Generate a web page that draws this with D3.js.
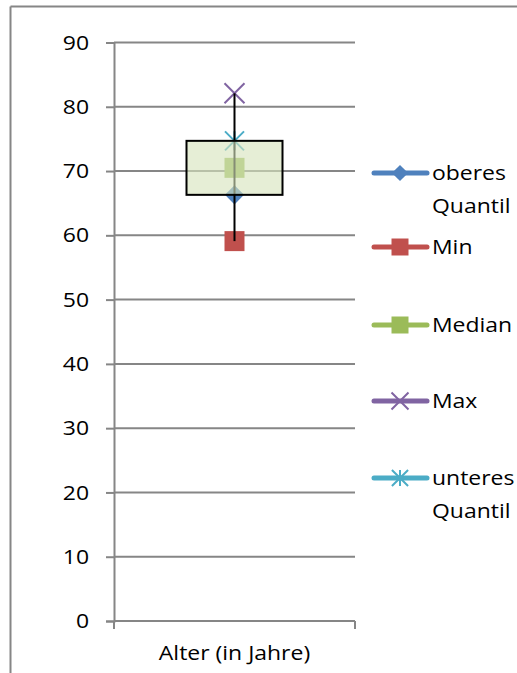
<!DOCTYPE html>
<html>
<head>
<meta charset="utf-8">
<script src="https://cdn.jsdelivr.net/npm/d3@7"></script>
<style>
  html, body { margin: 0; padding: 0; background: #fff; }
  svg { display: block; }
  text { font-family: "Open Sans", Lato, sans-serif; fill: #000; }
</style>
</head>
<body>
<svg id="chart" width="517" height="673"></svg>
<script>
// Age distribution (box plot built from five line series)
const categories = ["Alter (in Jahre)"];
const seriesNames = ["oberes Quantil", "Min", "Median", "Max", "unteres Quantil"];
const seriesValues = [66.3, 59.1, 70.5, 82.1, 74.7];
const seriesColors = ["#4F81BD", "#C0504D", "#9BBB59", "#8064A2", "#4BACC6"];
const yTicks = [0, 10, 20, 30, 40, 50, 60, 70, 80, 90];

const svg = d3.select("#chart");
const W = 517, H = 673;
const FONT = "'Open Sans', Lato, sans-serif";
const FS = 20.5;   // font size
const SX = 1.12;   // horizontal text stretch

// plot area
const plotLeft = 114, plotRight = 355, plotTop = 42.5, plotBottom = 621;
const y = d3.scaleLinear().domain([0, 90]).range([plotBottom, plotTop]);
const x = d3.scaleBand().domain(categories).range([plotLeft, plotRight]);
const grey = "#868686";

// chart frame (top and left edges)
svg.append("line").attr("x1", 10.5).attr("x2", W).attr("y1", 6.5).attr("y2", 6.5)
  .attr("stroke", grey).attr("stroke-width", 2);
svg.append("line").attr("x1", 10.5).attr("x2", 10.5).attr("y1", 6.5).attr("y2", H)
  .attr("stroke", grey).attr("stroke-width", 2);

// horizontal gridlines
svg.append("g").selectAll("line").data(yTicks.filter(d => d > 0)).join("line")
  .attr("x1", plotLeft).attr("x2", plotRight)
  .attr("y1", d => y(d)).attr("y2", d => y(d))
  .attr("stroke", grey).attr("stroke-width", 2);

// value axis
const yAxis = svg.append("g").attr("transform", `translate(${plotLeft},0)`)
  .call(d3.axisLeft(y).tickValues(yTicks).tickSize(8).tickPadding(17).tickFormat(d3.format("d")));
yAxis.select(".domain").attr("stroke", grey).attr("stroke-width", 2);
yAxis.selectAll(".tick line").attr("stroke", grey).attr("stroke-width", 2);
yAxis.selectAll(".tick text").attr("font-size", FS).attr("font-family", FONT)
  .attr("x", -25 / SX).attr("transform", `scale(${SX},1)`);

// category axis
const xAxis = svg.append("g").attr("transform", `translate(0,${plotBottom})`)
  .call(d3.axisBottom(x).tickSize(0).tickPadding(24));
xAxis.select(".domain").remove();
xAxis.append("line").attr("x1", plotLeft).attr("x2", plotRight).attr("stroke", grey).attr("stroke-width", 2);
xAxis.selectAll(".boundary").data([plotLeft, plotRight]).join("line")
  .attr("x1", d => d).attr("x2", d => d).attr("y1", 0).attr("y2", 8)
  .attr("stroke", grey).attr("stroke-width", 2);
xAxis.selectAll(".tick text").attr("font-size", FS).attr("font-family", FONT)
  .attr("transform", `scale(${SX},1)`);

// marker shapes
const starSymbol = {
  draw(ctx, size) {
    const r = Math.sqrt(size) / 2;
    ctx.moveTo(-r, -r); ctx.lineTo(r, r);
    ctx.moveTo(-r, r); ctx.lineTo(r, -r);
    ctx.moveTo(0, -r); ctx.lineTo(0, r);
  }
};
const xSymbol = {
  draw(ctx, size) {
    const r = Math.sqrt(size) / 2;
    ctx.moveTo(-r, -r); ctx.lineTo(r, r);
    ctx.moveTo(-r, r); ctx.lineTo(r, -r);
  }
};
const markerDefs = [
  { type: d3.symbolSquare, rotate: 45, filled: true, scale: 13.5 },
  { type: d3.symbolSquare, rotate: 0, filled: true, scale: 20 },
  { type: d3.symbolSquare, rotate: 0, filled: true, scale: 20 },
  { type: xSymbol, rotate: 0, filled: false, scale: 20 },
  { type: starSymbol, rotate: 0, filled: false, scale: 19 }
];

function drawMarker(g, i, cx, cy, k) {
  const m = markerDefs[i];
  const s = m.scale * k;
  g.append("path")
    .attr("d", d3.symbol().type(m.type).size(s * s)())
    .attr("transform", `translate(${cx},${cy}) rotate(${m.rotate})`)
    .attr("fill", m.filled ? seriesColors[i] : "none")
    .attr("stroke", m.filled ? "none" : seriesColors[i])
    .attr("stroke-width", m.filled ? 0 : 2);
}

const cx = x(categories[0]) + x.bandwidth() / 2;
const plot = svg.append("g");

// series markers
seriesValues.forEach((v, i) => drawMarker(plot, i, cx, y(v), 1));

// whisker from Min to Max
const vMin = seriesValues[1], vMax = seriesValues[3];
plot.append("line").attr("x1", cx).attr("x2", cx)
  .attr("y1", y(vMax)).attr("y2", y(vMin))
  .attr("stroke", "#000").attr("stroke-width", 2);

// quartile box
const q1 = Math.min(seriesValues[0], seriesValues[4]);
const q3 = Math.max(seriesValues[0], seriesValues[4]);
const boxW = 96;
plot.append("rect")
  .attr("x", cx - boxW / 2).attr("y", y(q3))
  .attr("width", boxW).attr("height", y(q1) - y(q3))
  .attr("fill", "#D7E4BD").attr("fill-opacity", 0.62)
  .attr("stroke", "#000").attr("stroke-width", 2);

// legend
const legendY = [173, 247, 325, 401, 478];
const legend = svg.append("g");
seriesNames.forEach((name, i) => {
  const ly = legendY[i];
  legend.append("line").attr("x1", 374).attr("x2", 427).attr("y1", ly).attr("y2", ly)
    .attr("stroke", seriesColors[i]).attr("stroke-width", 5).attr("stroke-linecap", "round");
  drawMarker(legend, i, 400, ly, 0.85);
  const t = legend.append("text").attr("y", ly).attr("font-size", FS).attr("font-family", FONT)
    .attr("transform", `scale(${SX},1)`);
  name.split(" ").forEach((w, j) =>
    t.append("tspan").attr("x", 432 / SX).attr("dy", j === 0 ? "0.36em" : 33).text(w));
});
</script>
</body>
</html>
